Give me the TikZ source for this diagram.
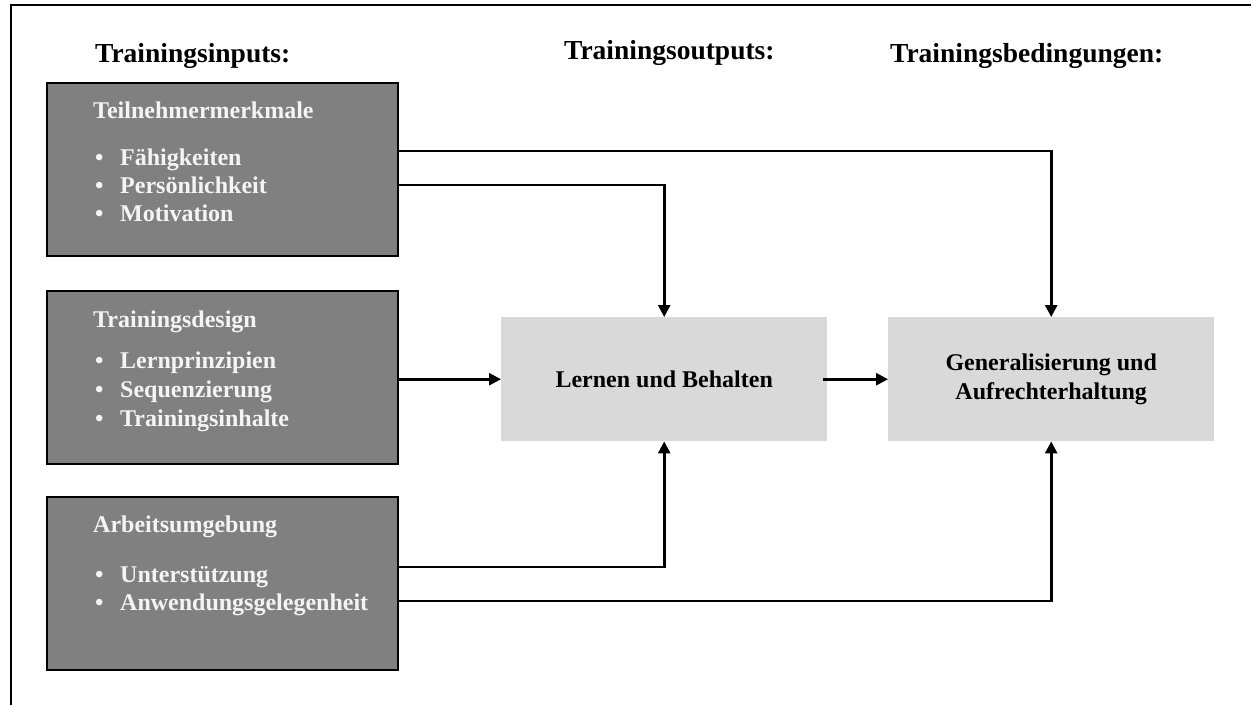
\documentclass[tikz,border=0pt]{standalone}
\usepackage{fontspec}
\setmainfont{Liberation Serif}
\usetikzlibrary{arrows.meta}
\definecolor{ingray}{HTML}{808080}
\definecolor{outgray}{HTML}{D9D9D9}
\definecolor{boxtext}{HTML}{F4F4F4}
\begin{document}
\begin{tikzpicture}[x=1pt,y=-1pt,
  inbox/.style={draw=black, line width=2.4pt, fill=ingray, anchor=north west,
    minimum width=351pt, minimum height=173pt, inner sep=0pt},
  outbox/.style={fill=outgray, anchor=north west, minimum width=326pt,
    minimum height=124pt, inner sep=0pt, align=center,
    font=\bfseries\fontsize{24}{29}\selectfont},
  head/.style={font=\bfseries\fontsize{27.5}{30}\selectfont, anchor=base west, inner sep=0pt},
  btitle/.style={font=\bfseries\fontsize{24}{28}\selectfont, text=boxtext, anchor=base west, inner sep=0pt},
  bitem/.style={font=\bfseries\fontsize{24}{28}\selectfont, text=boxtext, anchor=base west, inner sep=0pt},
  frameline/.style={line width=2.4pt},
  conn/.style={line width=2.6pt, -{Triangle[length=12pt,width=12pt]}}
]
\useasboundingbox (0,0) rectangle (1251,705);
\draw[frameline] (11,705) -- (11,5) -- (1251,5);

% headers
\node[head] (h1) at (95,62) {Trainingsinputs:};
\node[head] (h2) at (564,59) {Trainingsoutputs:};
\node[head] (h3) at (890,62) {Trainingsbedingungen:};

% input boxes
\node[inbox] (b1) at (45.5,81.5) {};
\node[inbox] (b2) at (45.5,289.5) {};
\node[inbox] (b3) at (45.5,495.5) {};

% box 1 text
\node[btitle] (t1) at (93,118) {Teilnehmermerkmale};
\node[bitem] (d11) at (95,165) {•};
\node[bitem] (i11) at (120,165) {Fähigkeiten};
\node[bitem] (d12) at (95,193) {•};
\node[bitem] (i12) at (120,193) {Persönlichkeit};
\node[bitem] (d13) at (95,221) {•};
\node[bitem] (i13) at (120,221) {Motivation};

% box 2 text
\node[btitle] (t2) at (93,327) {Trainingsdesign};
\node[bitem] (d21) at (95,368) {•};
\node[bitem] (i21) at (120,368) {Lernprinzipien};
\node[bitem] (d22) at (95,397) {•};
\node[bitem] (i22) at (120,397) {Sequenzierung};
\node[bitem] (d23) at (95,426) {•};
\node[bitem] (i23) at (120,426) {Trainingsinhalte};

% box 3 text
\node[btitle] (t3) at (93,532) {Arbeitsumgebung};
\node[bitem] (d31) at (95,582) {•};
\node[bitem] (i31) at (120,582) {Unterstützung};
\node[bitem] (d32) at (95,610) {•};
\node[bitem] (i32) at (120,610) {Anwendungsgelegenheit};

% output boxes
\node[outbox] (lern) at (501,317) {Lernen und Behalten};
\node[outbox] (gen) at (888,317) {Generalisierung und\\Aufrechterhaltung};

% connector heights
\coordinate (y1) at (0,151);
\coordinate (y2) at (0,185);
\coordinate (y3) at (0,567);
\coordinate (y4) at (0,601);

\draw[conn] (b1.east |- y1) -| (gen.north);
\draw[conn] (b1.east |- y2) -| (lern.north);
\draw[conn] (b2.east |- lern.west) -- (lern.west);
\draw[conn] ([xshift=-4pt]lern.east) -- (lern.east -| gen.west);
\draw[conn] (b3.east |- y3) -| (lern.south);
\draw[conn] (b3.east |- y4) -| (gen.south);
\end{tikzpicture}
\end{document}
